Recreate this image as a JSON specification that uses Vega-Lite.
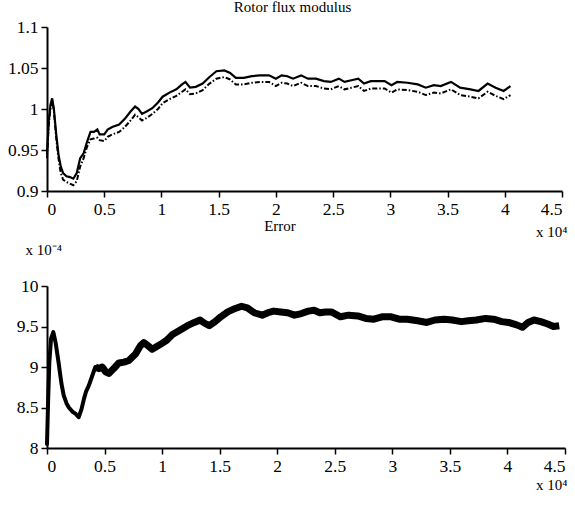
{
  "$schema": "https://vega.github.io/schema/vega-lite/v6.json",
  "background": "white",
  "autosize": {"type": "pad"},
  "padding": {"left": 7, "top": 0, "right": 0, "bottom": 5},
  "bounds": "flush",
  "spacing": 95,
  "config": {
    "view": {"stroke": null},
    "font": "Liberation Serif",
    "axis": {
      "grid": false,
      "domainColor": "black",
      "domainWidth": 2,
      "tickColor": "black",
      "tickWidth": 1.5,
      "tickSize": 6,
      "labelPadding": 3,
      "labelFont": "Liberation Serif",
      "labelFontSize": 17.5,
      "labelColor": "black",
      "titleFont": "Liberation Serif",
      "titleFontSize": 16,
      "titleFontWeight": "normal",
      "titleColor": "black"
    },
    "title": {"font": "Liberation Serif", "fontSize": 15, "fontWeight": "normal", "color": "black"}
  },
  "vconcat": [
    {
      "width": 515,
      "height": 164,
      "title": {"text": "Rotor flux modulus", "offset": 3, "dx": -12, "font": "Liberation Serif"},
      "data": {"values": [
        {"x": 0, "s": 0.945, "d": 0.94},
        {"x": 150, "s": 0.985, "d": 0.98},
        {"x": 300, "s": 1.005, "d": 1.0},
        {"x": 450, "s": 1.013, "d": 1.011},
        {"x": 600, "s": 1.0, "d": 0.998},
        {"x": 800, "s": 0.97, "d": 0.965},
        {"x": 1000, "s": 0.945, "d": 0.94},
        {"x": 1200, "s": 0.93, "d": 0.922},
        {"x": 1400, "s": 0.922, "d": 0.914},
        {"x": 1700, "s": 0.918, "d": 0.911},
        {"x": 2000, "s": 0.917, "d": 0.909},
        {"x": 2300, "s": 0.915, "d": 0.907},
        {"x": 2600, "s": 0.922, "d": 0.912},
        {"x": 2900, "s": 0.94, "d": 0.93},
        {"x": 3200, "s": 0.946, "d": 0.94},
        {"x": 3500, "s": 0.96, "d": 0.954},
        {"x": 3800, "s": 0.972, "d": 0.963},
        {"x": 4100, "s": 0.972, "d": 0.964},
        {"x": 4400, "s": 0.975, "d": 0.965},
        {"x": 4600, "s": 0.969, "d": 0.962},
        {"x": 5000, "s": 0.969, "d": 0.961},
        {"x": 5300, "s": 0.975, "d": 0.966},
        {"x": 5700, "s": 0.978, "d": 0.969},
        {"x": 6300, "s": 0.981, "d": 0.972},
        {"x": 6800, "s": 0.988, "d": 0.978},
        {"x": 7300, "s": 0.997, "d": 0.986},
        {"x": 7700, "s": 1.003, "d": 0.993},
        {"x": 8000, "s": 1.0, "d": 0.99},
        {"x": 8300, "s": 0.994, "d": 0.986},
        {"x": 8700, "s": 0.997, "d": 0.989},
        {"x": 9200, "s": 1.001, "d": 0.994},
        {"x": 9700, "s": 1.008, "d": 1.0},
        {"x": 10100, "s": 1.015, "d": 1.007},
        {"x": 10700, "s": 1.02, "d": 1.012},
        {"x": 11300, "s": 1.024, "d": 1.016},
        {"x": 11800, "s": 1.03, "d": 1.021},
        {"x": 12100, "s": 1.033, "d": 1.024},
        {"x": 12500, "s": 1.026, "d": 1.018},
        {"x": 13000, "s": 1.027, "d": 1.019},
        {"x": 13600, "s": 1.031, "d": 1.023},
        {"x": 14200, "s": 1.039, "d": 1.031},
        {"x": 14800, "s": 1.046, "d": 1.037},
        {"x": 15500, "s": 1.047, "d": 1.039},
        {"x": 16000, "s": 1.044, "d": 1.036},
        {"x": 16500, "s": 1.038, "d": 1.03},
        {"x": 17200, "s": 1.038, "d": 1.03},
        {"x": 17900, "s": 1.04, "d": 1.032},
        {"x": 18600, "s": 1.041, "d": 1.033},
        {"x": 19400, "s": 1.041, "d": 1.033},
        {"x": 20000, "s": 1.037, "d": 1.028},
        {"x": 20500, "s": 1.041, "d": 1.032},
        {"x": 21000, "s": 1.04, "d": 1.031},
        {"x": 21500, "s": 1.037, "d": 1.028},
        {"x": 22200, "s": 1.041, "d": 1.032},
        {"x": 22800, "s": 1.037, "d": 1.028},
        {"x": 23500, "s": 1.037, "d": 1.028},
        {"x": 24200, "s": 1.034, "d": 1.025},
        {"x": 24800, "s": 1.033, "d": 1.024},
        {"x": 25500, "s": 1.037, "d": 1.028},
        {"x": 26000, "s": 1.033, "d": 1.024},
        {"x": 26600, "s": 1.035, "d": 1.026},
        {"x": 27200, "s": 1.037, "d": 1.028},
        {"x": 27700, "s": 1.031, "d": 1.022},
        {"x": 28300, "s": 1.034, "d": 1.025},
        {"x": 29000, "s": 1.034, "d": 1.025},
        {"x": 29500, "s": 1.034, "d": 1.025},
        {"x": 30100, "s": 1.029, "d": 1.02},
        {"x": 30600, "s": 1.033, "d": 1.024},
        {"x": 31500, "s": 1.032, "d": 1.023},
        {"x": 32400, "s": 1.03, "d": 1.021},
        {"x": 33100, "s": 1.026, "d": 1.017},
        {"x": 33800, "s": 1.029, "d": 1.02},
        {"x": 34400, "s": 1.028, "d": 1.019},
        {"x": 35300, "s": 1.033, "d": 1.024},
        {"x": 36100, "s": 1.026, "d": 1.017},
        {"x": 37000, "s": 1.024, "d": 1.015},
        {"x": 37700, "s": 1.022, "d": 1.013},
        {"x": 38500, "s": 1.031, "d": 1.021},
        {"x": 39200, "s": 1.026, "d": 1.016},
        {"x": 39900, "s": 1.022, "d": 1.012},
        {"x": 40500, "s": 1.028, "d": 1.017}
      ]},
      "encoding": {
        "x": {
          "field": "x", "type": "quantitative",
          "scale": {"domain": [0, 45000], "nice": false, "zero": false},
          "axis": {
            "values": [0, 5000, 10000, 15000, 20000, 25000, 30000, 35000, 40000, 45000],
            "labelExpr": "format(datum.value / 10000, '~g')",
            "labelFont": "Liberation Serif", "titleFont": "Liberation Serif",
            "title": "x 10⁴",
            "titleAnchor": "end", "titleAlign": "right", "titleBaseline": "alphabetic",
            "titleX": 520, "titleY": 45, "titleFontSize": 15
          }
        }
      },
      "layer": [
        {
          "mark": {"type": "line", "color": "black", "strokeWidth": 2.2},
          "encoding": {
            "y": {
              "field": "s", "type": "quantitative",
              "scale": {"domain": [0.9, 1.1], "nice": false, "zero": false},
              "axis": {"values": [0.9, 0.95, 1, 1.05, 1.1], "format": "~g", "title": null, "labelFont": "Liberation Serif"}
            }
          }
        },
        {
          "mark": {"type": "line", "color": "black", "strokeWidth": 2, "strokeDash": [5, 2, 1.5, 2]},
          "encoding": {
            "y": {"field": "d", "type": "quantitative"}
          }
        }
      ]
    },
    {
      "width": 518,
      "height": 162,
      "title": {"text": "Error", "offset": 8, "dx": -26, "font": "Liberation Serif"},
      "data": {"values": [
        {"x": 0, "e": 8.05},
        {"x": 100, "e": 8.6},
        {"x": 200, "e": 9.05},
        {"x": 350, "e": 9.35},
        {"x": 550, "e": 9.43},
        {"x": 750, "e": 9.3},
        {"x": 1000, "e": 9.06},
        {"x": 1250, "e": 8.8},
        {"x": 1450, "e": 8.65},
        {"x": 1700, "e": 8.55},
        {"x": 1900, "e": 8.5},
        {"x": 2200, "e": 8.45},
        {"x": 2500, "e": 8.42},
        {"x": 2750, "e": 8.38},
        {"x": 3000, "e": 8.48},
        {"x": 3200, "e": 8.6},
        {"x": 3400, "e": 8.7},
        {"x": 3630, "e": 8.77},
        {"x": 3900, "e": 8.88},
        {"x": 4200, "e": 9.0},
        {"x": 4500, "e": 8.98},
        {"x": 4800, "e": 9.0},
        {"x": 5100, "e": 8.94},
        {"x": 5370, "e": 8.92},
        {"x": 5800, "e": 8.98},
        {"x": 6240, "e": 9.05},
        {"x": 6700, "e": 9.06},
        {"x": 7110, "e": 9.08},
        {"x": 7690, "e": 9.16},
        {"x": 8100, "e": 9.26},
        {"x": 8410, "e": 9.3},
        {"x": 8800, "e": 9.26},
        {"x": 9140, "e": 9.22},
        {"x": 9500, "e": 9.25},
        {"x": 9860, "e": 9.28},
        {"x": 10400, "e": 9.33},
        {"x": 10900, "e": 9.4},
        {"x": 11500, "e": 9.45},
        {"x": 12200, "e": 9.51},
        {"x": 12800, "e": 9.55},
        {"x": 13300, "e": 9.58},
        {"x": 13700, "e": 9.54},
        {"x": 14100, "e": 9.51},
        {"x": 14600, "e": 9.56},
        {"x": 15100, "e": 9.62},
        {"x": 15700, "e": 9.68},
        {"x": 16300, "e": 9.72},
        {"x": 16900, "e": 9.75},
        {"x": 17400, "e": 9.73},
        {"x": 18000, "e": 9.67},
        {"x": 18700, "e": 9.64},
        {"x": 19200, "e": 9.67},
        {"x": 19700, "e": 9.69},
        {"x": 20300, "e": 9.68},
        {"x": 20900, "e": 9.67},
        {"x": 21500, "e": 9.64},
        {"x": 22100, "e": 9.66},
        {"x": 22700, "e": 9.69},
        {"x": 23200, "e": 9.7},
        {"x": 23700, "e": 9.67},
        {"x": 24200, "e": 9.68},
        {"x": 24700, "e": 9.68},
        {"x": 25500, "e": 9.62},
        {"x": 26200, "e": 9.64},
        {"x": 27000, "e": 9.63},
        {"x": 27700, "e": 9.6},
        {"x": 28400, "e": 9.59},
        {"x": 29100, "e": 9.62},
        {"x": 29900, "e": 9.62},
        {"x": 30600, "e": 9.59},
        {"x": 31300, "e": 9.59},
        {"x": 32200, "e": 9.57},
        {"x": 33000, "e": 9.55},
        {"x": 33700, "e": 9.58},
        {"x": 34500, "e": 9.59},
        {"x": 35200, "e": 9.58},
        {"x": 36000, "e": 9.56},
        {"x": 36600, "e": 9.57},
        {"x": 37300, "e": 9.58},
        {"x": 38100, "e": 9.6},
        {"x": 38800, "e": 9.59},
        {"x": 39500, "e": 9.56},
        {"x": 40100, "e": 9.55},
        {"x": 40800, "e": 9.52},
        {"x": 41300, "e": 9.49},
        {"x": 41800, "e": 9.55},
        {"x": 42300, "e": 9.58},
        {"x": 42900, "e": 9.56},
        {"x": 43500, "e": 9.53},
        {"x": 44000, "e": 9.5},
        {"x": 44500, "e": 9.51}
      ]},
      "encoding": {
        "x": {
          "field": "x", "type": "quantitative",
          "scale": {"domain": [0, 45000], "nice": false, "zero": false},
          "axis": {
            "values": [0, 5000, 10000, 15000, 20000, 25000, 30000, 35000, 40000, 45000],
            "labelExpr": "format(datum.value / 10000, '~g')",
            "labelFont": "Liberation Serif", "titleFont": "Liberation Serif",
            "title": "x 10⁴",
            "titleAnchor": "end", "titleAlign": "right", "titleBaseline": "alphabetic",
            "titleX": 520, "titleY": 41, "titleFontSize": 15
          }
        },
        "y": {
          "field": "e", "type": "quantitative",
          "scale": {"domain": [8, 10], "nice": false, "zero": false},
          "axis": {
            "values": [8, 8.5, 9, 9.5, 10], "format": "~g",
            "labelFont": "Liberation Serif", "titleFont": "Liberation Serif",
            "title": "x 10⁻⁴",
            "titleAngle": 0, "titleAlign": "left", "titleBaseline": "alphabetic",
            "titleX": -22, "titleY": -32, "titleFontSize": 15
          }
        }
      },
      "layer": [
        {
          "transform": [{"filter": "datum.x <= 4200"}],
          "mark": {"type": "line", "color": "black", "strokeWidth": 4, "strokeJoin": "round", "strokeCap": "round"}
        },
        {
          "transform": [{"filter": "datum.x >= 4200"}],
          "mark": {"type": "line", "color": "black", "strokeWidth": 7, "strokeJoin": "round"}
        }
      ]
    }
  ]
}
